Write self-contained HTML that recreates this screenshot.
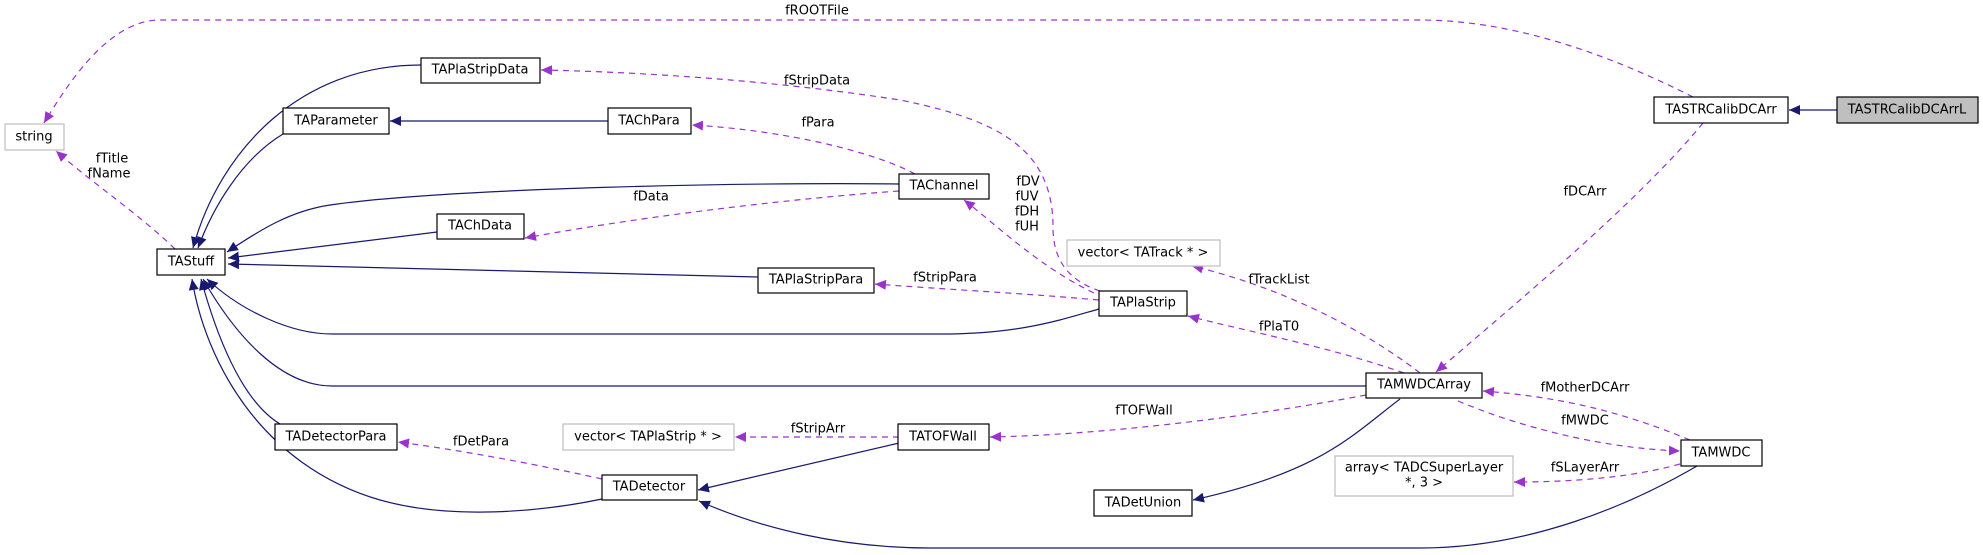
<!DOCTYPE html>
<html><head><meta charset="utf-8"><style>
html,body{margin:0;padding:0;background:#fff;}
svg{display:block;font-family:"DejaVu Sans","Liberation Sans",sans-serif;font-size:13px;}
</style></head><body>
<svg width="1983" height="555" viewBox="0 0 1983 555" xmlns="http://www.w3.org/2000/svg">
<defs>
<marker id="b" markerWidth="12" markerHeight="10" refX="11" refY="5" orient="auto" markerUnits="userSpaceOnUse"><path d="M0,0 L11,5 L0,10 Z" fill="#191970"/></marker>
<marker id="p" markerWidth="12" markerHeight="10" refX="11" refY="5" orient="auto" markerUnits="userSpaceOnUse"><path d="M0,0 L11,5 L0,10 Z" fill="#9a32cd"/></marker>
</defs>
<g fill="none" stroke="#191970" stroke-width="1.2" marker-end="url(#b)">
<path d="M1837,110 L1789,110"/>
<path d="M1366,386 L332,386 C280,386 235,335 203,279"/>
<path d="M1099,309 C1060,320 1020,334 940,334 L332,334 C290,334 240,310 207,279"/>
<path d="M899,184 C750,182 450,188 330,205 C290,211 260,230 227,252"/>
<path d="M437,232 L228,258"/>
<path d="M758,277 L228,264"/>
<path d="M421,65 C300,65 220,150 193,248"/>
<path d="M283,134 C240,160 212,210 198,248"/>
<path d="M608,121 L390,121"/>
<path d="M280,424 C240,400 215,330 201,279"/>
<path d="M602,499 C540,512 450,520 380,500 C260,465 205,360 192,279"/>
<path d="M899,443 L698,490"/>
<path d="M1400,399 C1350,437 1320,472 1193,500"/>
<path d="M1697,466 C1630,505 1530,548 1420,548 L930,548 C840,548 760,528 699,501"/>
</g>
<g fill="none" stroke="#9a32cd" stroke-width="1.2" stroke-dasharray="6,5" marker-end="url(#p)">
<path d="M1693,97 C1620,60 1520,20 1420,20 L160,20 C110,20 70,80 44,123"/>
<path d="M1703,123 C1640,200 1520,300 1436,372"/>
<path d="M899,437 L735,437"/>
<path d="M1366,395 C1250,417 1100,435 990,437"/>
<path d="M602,479 C540,465 460,450 398,442"/>
<path d="M1690,440 C1620,411 1560,397 1483,391"/>
<path d="M1458,401 C1520,427 1600,448 1680,451"/>
<path d="M1680,464 C1630,478 1570,482 1514,482"/>
<path d="M1404,373 C1330,347 1250,332 1188,316"/>
<path d="M1420,373 C1360,327 1280,287 1192,266"/>
<path d="M1099,300 C1020,293 940,289 875,284"/>
<path d="M1094,293 C1040,267 1000,228 964,200"/>
<path d="M1100,291 C1060,278 1053,250 1053,227 C1053,150 1000,120 900,100 C770,80 640,72 541,70"/>
<path d="M915,174 C870,150 780,130 692,125"/>
<path d="M899,191 C800,198 650,215 525,238"/>
<path d="M175,249 C140,215 95,185 56,151"/>
</g>
<g stroke-width="1.2">
<rect x="5" y="124" width="59" height="26" fill="#fff" stroke="#bfbfbf"/>
<rect x="421" y="58" width="119" height="25" fill="#fff" stroke="#000"/>
<rect x="283" y="108" width="106" height="26" fill="#fff" stroke="#000"/>
<rect x="608" y="108" width="83" height="26" fill="#fff" stroke="#000"/>
<rect x="899" y="174" width="90" height="25" fill="#fff" stroke="#000"/>
<rect x="437" y="214" width="87" height="25" fill="#fff" stroke="#000"/>
<rect x="157" y="249" width="68" height="26" fill="#fff" stroke="#000"/>
<rect x="758" y="268" width="116" height="25" fill="#fff" stroke="#000"/>
<rect x="1067" y="240" width="153" height="26" fill="#fff" stroke="#bfbfbf"/>
<rect x="1099" y="291" width="88" height="25" fill="#fff" stroke="#000"/>
<rect x="1366" y="373" width="116" height="25" fill="#fff" stroke="#000"/>
<rect x="275" y="424" width="122" height="26" fill="#fff" stroke="#000"/>
<rect x="563" y="424" width="171" height="26" fill="#fff" stroke="#bfbfbf"/>
<rect x="898" y="424" width="91" height="26" fill="#fff" stroke="#000"/>
<rect x="602" y="475" width="95" height="25" fill="#fff" stroke="#000"/>
<rect x="1094" y="490" width="98" height="26" fill="#fff" stroke="#000"/>
<rect x="1335" y="456" width="178" height="40" fill="#fff" stroke="#bfbfbf"/>
<rect x="1681" y="440" width="81" height="26" fill="#fff" stroke="#000"/>
<rect x="1654" y="97" width="134" height="26" fill="#fff" stroke="#000"/>
<rect x="1837" y="97" width="141" height="26" fill="#bfbfbf" stroke="#000"/>
</g>
<g fill="#000" text-anchor="middle" dominant-baseline="central">
<text x="34" y="137">string</text>
<text x="480" y="70">TAPlaStripData</text>
<text x="336" y="121">TAParameter</text>
<text x="649" y="121">TAChPara</text>
<text x="944" y="186">TAChannel</text>
<text x="480" y="226">TAChData</text>
<text x="191" y="262">TAStuff</text>
<text x="816" y="280">TAPlaStripPara</text>
<text x="1143" y="253">vector&lt; TATrack * &gt;</text>
<text x="1143" y="303">TAPlaStrip</text>
<text x="1424" y="385">TAMWDCArray</text>
<text x="336" y="437">TADetectorPara</text>
<text x="648" y="437">vector&lt; TAPlaStrip * &gt;</text>
<text x="943" y="437">TATOFWall</text>
<text x="649" y="487">TADetector</text>
<text x="1143" y="503">TADetUnion</text>
<text x="1424" y="468">array&lt; TADCSuperLayer</text>
<text x="1424" y="483">*, 3 &gt;</text>
<text x="1721" y="453">TAMWDC</text>
<text x="1721" y="110">TASTRCalibDCArr</text>
<text x="1907" y="110">TASTRCalibDCArrL</text>
<text x="817" y="11">fROOTFile</text>
<text x="112" y="159">fTitle</text>
<text x="109" y="174">fName</text>
<text x="651" y="197">fData</text>
<text x="818" y="123">fPara</text>
<text x="817" y="81">fStripData</text>
<text x="1028" y="182">fDV</text>
<text x="1027" y="197">fUV</text>
<text x="1027" y="212">fDH</text>
<text x="1027" y="227">fUH</text>
<text x="945" y="278">fStripPara</text>
<text x="1279" y="280">fTrackList</text>
<text x="1279" y="327">fPlaT0</text>
<text x="1144" y="411">fTOFWall</text>
<text x="818" y="429">fStripArr</text>
<text x="481" y="442">fDetPara</text>
<text x="1585" y="192">fDCArr</text>
<text x="1585" y="388">fMotherDCArr</text>
<text x="1585" y="421">fMWDC</text>
<text x="1585" y="468">fSLayerArr</text>
</g>
</svg>
</body></html>
